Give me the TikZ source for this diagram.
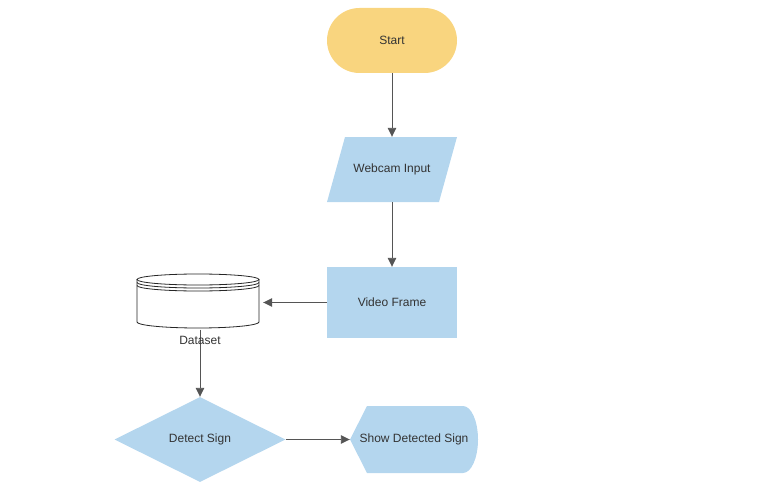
\documentclass[tikz,border=0pt]{standalone}
\usepackage{fontspec}
\setmainfont{Liberation Sans}
\usetikzlibrary{shapes.geometric,arrows.meta}
\definecolor{boxblue}{HTML}{B4D6EE}
\definecolor{startyellow}{HTML}{F9D57F}
\definecolor{linegray}{HTML}{555555}
\definecolor{textgray}{HTML}{333333}

\begin{document}
\begin{tikzpicture}[x=1pt,y=-1pt]
\tikzset{base/.style = {inner sep=0pt, text=textgray, font=\fontsize{12}{14}\selectfont}}
\tikzset{terminal/.style = {base, fill=startyellow, rounded corners=32.5pt, minimum width=130pt, minimum height=65pt}}
\tikzset{processbox/.style = {base, fill=boxblue, minimum width=130pt, minimum height=71pt}}
\tikzset{decision/.style = {base, fill=boxblue, diamond, aspect=2, minimum width=171pt, minimum height=85pt}}
\tikzset{edge/.style = {draw=linegray, line width=0.9pt, -{Triangle[length=9pt,width=8.5pt]}}}
\tikzset{drum/.style = {draw=black!85, line width=0.8pt}}

\useasboundingbox (0,0) rectangle (763,487);

% Sign detection flow
\node[terminal] (start) at (392,40.5) {Start};

% parallelogram for the input
\fill[boxblue] (327,202) -- (345,137) -- (457,137) -- (439,202) -- cycle;
\node[base, minimum width=130pt, minimum height=65pt] (webcam) at (392,169.5) {Webcam Input};

\node[processbox] (video) at (392,302.5) {Video Frame};

% dataset drum
\node[base, minimum width=122pt, minimum height=54pt] (dataset) at (198,302.5) {};
\filldraw[drum, fill=white] (137,279.5) -- (137,322)
  arc[start angle=180, end angle=360, x radius=61pt, y radius=6pt] -- (259,279.5);
\draw[drum] (198,279.5) ellipse[x radius=61pt, y radius=5.5pt];
\draw[drum] (137,282.5) arc[start angle=180, end angle=360, x radius=61pt, y radius=5.5pt];
\draw[drum] (137,285.5) arc[start angle=180, end angle=360, x radius=61pt, y radius=5.5pt];

\node[decision] (detect) at (200,439.5) {Detect Sign};

% display shape
\fill[boxblue] (350,439.5) -- (367,406) -- (463,406)
  arc[start angle=90, end angle=-90, x radius=15pt, y radius=33.5pt] -- (367,473) -- cycle;
\node[base, minimum width=128pt, minimum height=67pt] (show) at (414,439.5) {Show Detected Sign};

\draw[edge] (start) -- (webcam);
\draw[edge] (webcam) -- (video);
\draw[edge] (video) -- ([xshift=4pt]dataset.east);
\draw[edge] (dataset.south -| detect.north) -- (detect);
\draw[edge] (detect) -- (show);

\node[base] (datalabel) at (200,340) {Dataset};

\end{tikzpicture}
\end{document}
